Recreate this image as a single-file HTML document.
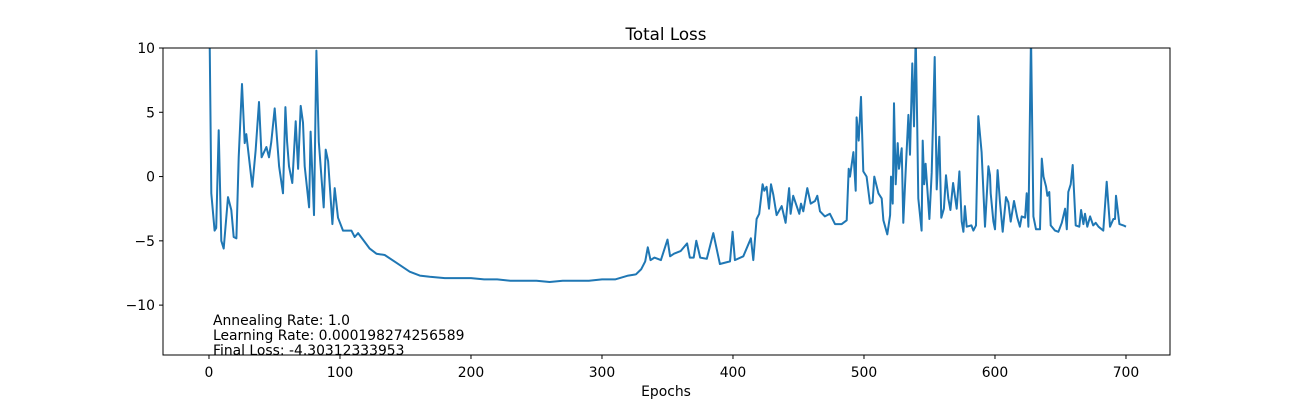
<!DOCTYPE html>
<html><head><meta charset="utf-8"><style>
body{margin:0;background:#fff;}
svg text{font-family:"DejaVu Sans","Liberation Sans",sans-serif;fill:#000;}
</style></head><body>
<svg id="chart" width="1300" height="400" xmlns="http://www.w3.org/2000/svg">
<defs><clipPath id="plotclip"><rect x="163" y="48" width="1007" height="307"/></clipPath></defs>
<rect width="1300" height="400" fill="#fff"/>
<text x="666" y="40" font-size="16.7" text-anchor="middle">Total Loss</text>
<g id="ticks"></g>
<path id="series" clip-path="url(#plotclip)" fill="none" stroke="#1f77b4" stroke-width="2" stroke-linejoin="round"/>
<rect x="163" y="48" width="1007" height="307" fill="none" stroke="#000" stroke-width="1"/>
<text x="666" y="396" font-size="13.9" text-anchor="middle">Epochs</text>
<text x="213" y="325" font-size="13.9">Annealing Rate: 1.0</text>
<text x="213" y="340" font-size="13.9">Learning Rate: 0.000198274256589</text>
<text x="213" y="355" font-size="13.9">Final Loss: -4.30312333953</text>
</svg>
<script>
const xTicks=[0,100,200,300,400,500,600,700];
const yTicks=[10,5,0,-5,-10];
const epochs=[0,0.5,1.8,4.3,5.5,7.4,9.4,11.2,14.5,17,18.9,20.9,22.7,25.2,27.3,28.5,33.1,35.6,38.2,40.2,43.8,45.8,47.6,50.2,53.5,56.5,58.3,59.6,61.1,63.6,66.2,68,70,71.8,73.1,76.4,77.6,80.2,82,83.8,87.6,89.1,90.9,94.2,96,98.5,102.3,108.7,111.2,113.8,117.6,122.7,127.8,134.1,143,153.2,160.9,168.5,180,190,200,210,220,230,240,250,260,270,280,290,300,310,320,326,330,333,335,337,340,345,350,352,355,360,365,367,370,372,375,380,385,390,397.7,399.7,401.5,407.9,413.7,415.5,418,420,422.6,423.9,425.7,427.5,429,430.8,433.3,437.2,440.2,442.8,444,446,450.6,451.9,453.7,456.7,459.3,462.6,464.4,466.4,470.2,474,477.9,483,486.8,488.3,489.3,491.9,493.7,494.4,496,497.7,499.5,502,504.6,506.6,507.9,511,513.5,514.8,517.8,519.9,520.6,521.9,522.9,524.2,525.7,526.7,528.8,530,531.8,533.9,535.1,536.9,538.2,539.5,540.7,541.5,544,544.8,546,547,549.9,551.7,554,555.5,557.5,559,561,562.6,564.4,566,568,570.8,572.8,574.6,575.9,577,578.4,582,583.5,585.5,587.3,589.8,592.4,595,596.2,596.7,598.8,600,602,603.8,605.9,608.4,610.2,612,614.5,617,619,620.4,623,624.2,625.5,627.5,629.3,631.3,634.4,635.7,637,639,640,641.5,642.5,645.8,648.4,651,653.5,654.8,656,657.8,659.3,661.6,664.4,665.7,667.5,668.7,670.5,672.6,675,676.9,679,682.7,685.3,687.8,690.4,691.6,692.4,695,698,700];
const losses=[14,11,-1.3,-4.2,-4.0,3.6,-5.0,-5.6,-1.6,-2.6,-4.7,-4.8,1.5,7.2,2.6,3.3,-0.8,2.0,5.8,1.5,2.3,1.5,2.7,5.3,0.8,-1.3,5.4,2.7,0.8,-0.5,4.3,0.6,5.5,4.2,0.8,-2.4,3.5,-3.0,9.8,2.7,-2.4,2.1,1.2,-3.7,-0.9,-3.2,-4.2,-4.2,-4.7,-4.4,-4.9,-5.6,-6.0,-6.1,-6.7,-7.4,-7.7,-7.8,-7.9,-7.9,-7.9,-8.0,-8.0,-8.1,-8.1,-8.1,-8.2,-8.1,-8.1,-8.1,-8.0,-8.0,-7.7,-7.6,-7.2,-6.6,-5.5,-6.5,-6.3,-6.5,-4.9,-6.2,-6.0,-5.8,-5.2,-6.3,-6.3,-5.0,-6.3,-6.4,-4.4,-6.8,-6.6,-4.3,-6.5,-6.2,-4.8,-6.5,-3.3,-2.9,-0.6,-1.1,-0.8,-2.5,-0.6,-1.4,-3.0,-2.3,-3.6,-0.9,-2.9,-1.5,-2.9,-2.1,-2.7,-0.9,-2.1,-1.9,-1.5,-2.7,-3.1,-2.9,-3.7,-3.7,-3.4,0.6,0.0,1.9,-1.1,4.6,2.8,6.2,0.4,0.0,-2.1,-2.0,0.0,-1.3,-1.7,-3.4,-4.5,-3.0,0.0,-2.1,5.7,-0.6,2.6,0.6,2.2,-3.6,0.3,4.8,1.7,8.8,3.9,11,3.6,-1.7,-4.2,2.8,-0.6,1.0,-3.3,0.3,9.3,-1.0,3.1,-3.2,-2.5,0.1,-1.7,-2.6,-0.5,-2.5,0.4,-3.5,-4.3,-2.3,-3.9,-3.8,-4.2,-3.8,4.7,1.9,-3.9,0.8,0.1,-1.3,-3.5,-4.1,0.5,-2.0,-4.3,-1.6,-2.0,-3.5,-1.9,-3.2,-3.9,-3.1,-3.2,-1.3,-3.9,11,-3.1,-4.1,-4.1,1.4,0.0,-0.8,-1.5,-1.2,-3.8,-4.2,-4.3,-3.6,-2.5,-4.1,-1.2,-0.6,0.9,-3.8,-3.9,-2.6,-3.7,-2.9,-3.9,-3.1,-3.8,-3.6,-3.9,-4.2,-0.4,-3.9,-3.3,-3.3,-1.5,-3.7,-3.8,-3.9,-4.3];
const X0=163,X1=1170,Y0=355,Y1=48,XMIN=-35.1,XMAX=733.6,YMIN=-13.88,YMAX=10;
function sx(v){return X0+(v-XMIN)/(XMAX-XMIN)*(X1-X0);}
function sy(v){return Y0-(v-YMIN)/(YMAX-YMIN)*(Y0-Y1);}
const NS="http://www.w3.org/2000/svg";
const g=document.getElementById('ticks');
function mk(tag,attrs,txt){const e=document.createElementNS(NS,tag);for(const k in attrs)e.setAttribute(k,attrs[k]);if(txt!==undefined)e.textContent=txt;g.appendChild(e);return e;}
xTicks.forEach(t=>{
  const l=mk('line',{x1:sx(t),x2:sx(t),y1:355,y2:359,stroke:'#000'});
  
  
  const tx=mk('text',{x:sx(t),y:377,'font-size':13.9,'text-anchor':'middle'},String(t));
  
  
});
yTicks.forEach(t=>{
  const l=mk('line',{x1:159,x2:163,y1:sy(t),y2:sy(t),stroke:'#000'});
  
  
  const tx=mk('text',{x:155,y:sy(t)+5,'font-size':13.9,'text-anchor':'end'},t<0?'\u2212'+Math.abs(t):String(t));
  
  
});
document.getElementById('series').setAttribute('d',epochs.map((e,i)=>(i?'L':'M')+sx(e).toFixed(1)+' '+sy(losses[i]).toFixed(1)).join(' '));
</script>
</body></html>
